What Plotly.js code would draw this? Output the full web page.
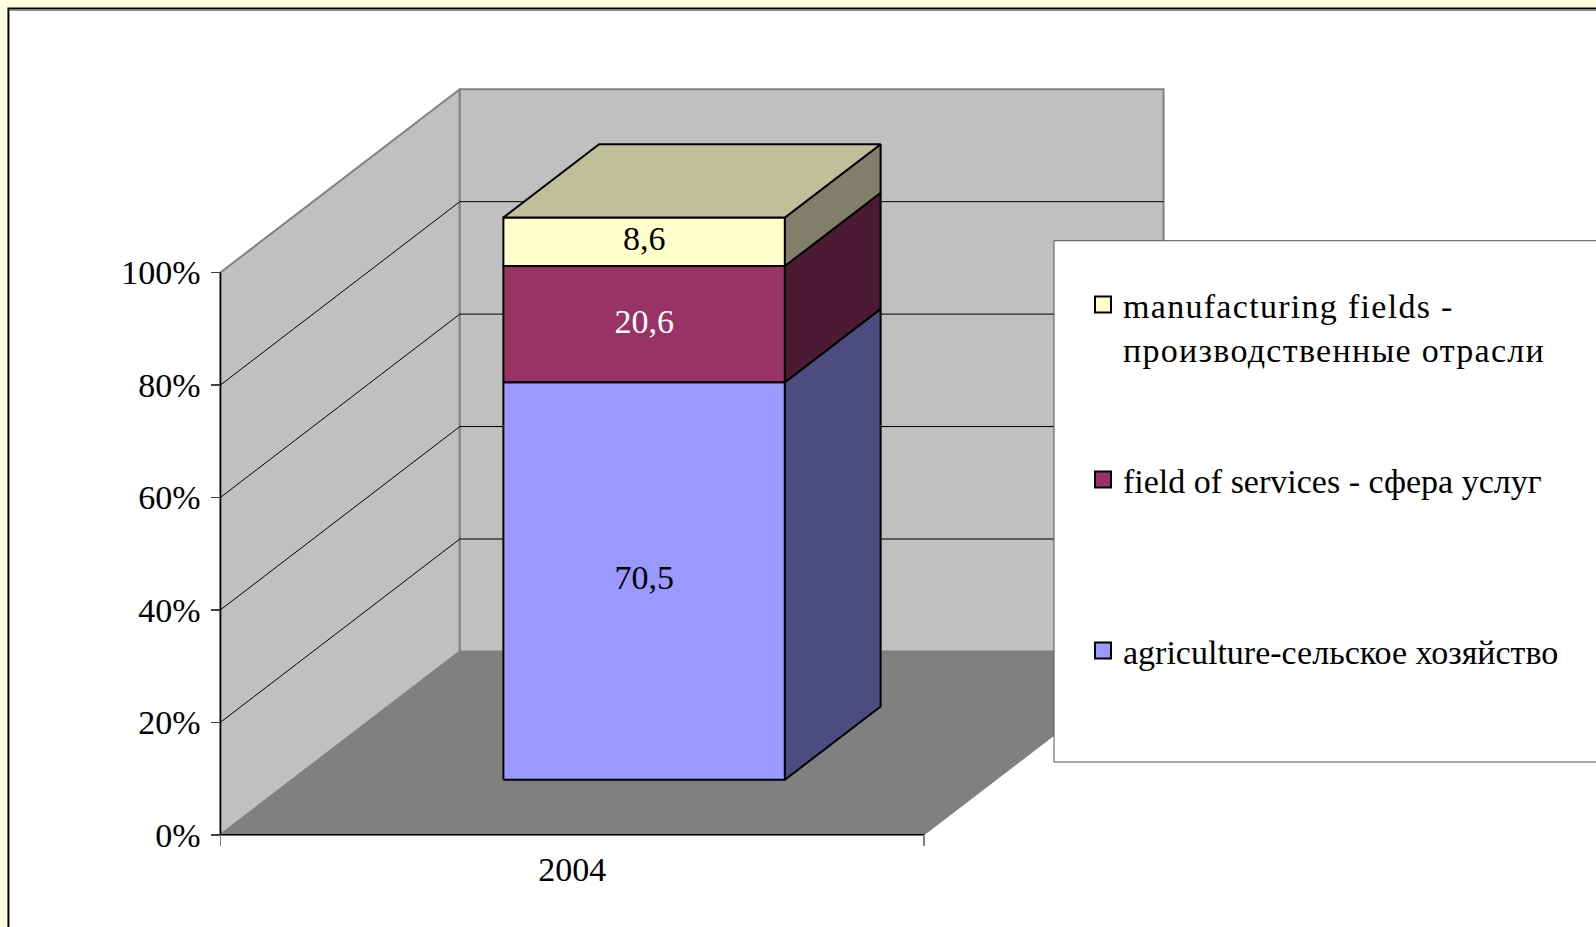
<!DOCTYPE html>
<html>
<head>
<meta charset="utf-8">
<script src="https://cdn.plot.ly/plotly-3.0.1.min.js"></script>
<style>
html,body{margin:0;padding:0;background:#FFFFE0;}
#chart{width:1596px;height:927px;}
#chart .legendtext{letter-spacing:1.3px;}
</style>
</head>
<body>
<div id="chart"></div>
<script>
// ---------------- data ----------------
const categories = ['2004'];
const seriesNames = [
  'agriculture-сельское хозяйство',
  'field of services - сфера услуг',
  'manufacturing fields -<br>производственные отрасли'
];
const agriculture = [70.5];
const services = [20.6];
const manufacturing = [8.6];
const valueLabels = ['70,5', '20,6', '8,6'];
const yTickVals = [0, 20, 40, 60, 80, 100];
const yTickText = ['0%', '20%', '40%', '60%', '80%', '100%'];

// ---------------- styles ----------------
const frontColors = ['#9999FF', '#993366', '#FFFFCC'];
const sideColors = ['#4C4C80', '#4D1A33', '#80806A'];
const topColor = '#BFBF99';
const labelColors = ['#000000', '#FFFFFF', '#000000'];
const FONT = 'Liberation Serif, Times New Roman, serif';
const FS = 34;

// ---------------- geometry (pixel targets) ----------------
const W = 1596, H = 927;
const X0PX = 220.9, X1PX = 924.3;      // front category band
const Y0PX = 834.7, Y100PX = 272.8;    // front 0% / 100%
const DEPTH_PX_X = 239.2, DEPTH_PX_Y = 183.2;
const pxPerX = (X1PX - X0PX);
const pxPerY = (Y0PX - Y100PX) / 100;
const DX = DEPTH_PX_X / pxPerX;
const DZ = DEPTH_PX_Y / pxPerY;
const xr = [-0.012, 1 + DX + 0.012];
const yr = [-2, 100 + DZ + 2];
const L = X0PX + xr[0] * pxPerX;
const PW = (xr[1] - xr[0]) * pxPerX;
const R = W - L - PW;
const B = H - Y0PX + yr[0] * pxPerY;
const PH = (yr[1] - yr[0]) * pxPerY;
const T = H - B - PH;
const px2paperX = px => (px - L) / PW;
const px2paperY = py => (H - B - py) / PH;

// projection of a point at category-x, value z and depth fraction f
const P = (x, z, f) => [x + f * DX, z + f * DZ];

const traces = [];
function poly(pts, fill, lineColor, lineWidth) {
  const xs = pts.map(p => p[0]); const ys = pts.map(p => p[1]);
  xs.push(xs[0]); ys.push(ys[0]);
  traces.push({type: 'scatter', mode: 'lines', x: xs, y: ys, fill: 'toself',
    fillcolor: fill, line: {color: lineColor, width: lineWidth},
    hoverinfo: 'skip', showlegend: false});
}
function line(pts, color, width) {
  traces.push({type: 'scatter', mode: 'lines', x: pts.map(p => p ? p[0] : null),
    y: pts.map(p => p ? p[1] : null), line: {color: color, width: width},
    hoverinfo: 'skip', showlegend: false, connectgaps: false});
}

const ymax = yTickVals[yTickVals.length - 1];
// walls & floor
poly([P(0, 0, 0), P(0, ymax, 0), P(0, ymax, 1), P(0, 0, 1)], '#C0C0C0', '#808080', 2);
poly([P(0, 0, 1), P(0, ymax, 1), P(1, ymax, 1), P(1, 0, 1)], '#C0C0C0', '#808080', 2);
poly([P(0, 0, 0), P(1, 0, 0), P(1, 0, 1), P(0, 0, 1)], '#808080', '#808080', 1);
// gridlines
const gl = [];
yTickVals.slice(1, -1).forEach(v => { gl.push(P(0, v, 0), P(0, v, 1), P(1, v, 1), null); });
line(gl, '#000000', 1);
// front floor edge and axis line
line([P(0, 0, 0), P(1, 0, 0)], '#000000', 1.5);
line([P(0, 0, 0), P(0, ymax, 0)], '#000000', 1.5);

// stacked bars (100% stacked)
const series = [agriculture, services, manufacturing];
const barX0 = 0.3, barX1 = 0.7, f0 = 0.3, f1 = 0.7;
categories.forEach((cat, ci) => {
  const total = series.reduce((s, arr) => s + arr[ci], 0);
  let base = 0;
  series.forEach((arr, si) => {
    const v = arr[ci] / total * 100;
    const b = base, t = base + v;
    poly([P(barX0, b, f0), P(barX1, b, f0), P(barX1, t, f0), P(barX0, t, f0)], frontColors[si], '#000000', 2);
    poly([P(barX1, b, f0), P(barX1, b, f1), P(barX1, t, f1), P(barX1, t, f0)], sideColors[si], '#000000', 2);
    if (si === series.length - 1) {
      poly([P(barX0, t, f0), P(barX1, t, f0), P(barX1, t, f1), P(barX0, t, f1)], topColor, '#000000', 2);
    }
    const c = P((barX0 + barX1) / 2, (b + t) / 2, f0);
    traces.push({type: 'scatter', mode: 'text', x: [c[0]], y: [c[1]], text: [valueLabels[si]],
      textposition: 'middle center', textfont: {family: FONT, size: FS, color: labelColors[si]},
      hoverinfo: 'skip', showlegend: false, cliponaxis: false});
    base = t;
  });
});

// legend entries
const legendIds = ['legend3', 'legend2', 'legend'];
series.forEach((arr, si) => {
  traces.push({type: 'scatter', mode: 'markers', x: [null], y: [null], name: seriesNames[si],
    legend: legendIds[si],
    marker: {symbol: 'square', size: 16, color: frontColors[si], line: {color: '#000000', width: 2}},
    hoverinfo: 'skip', showlegend: true});
});

const legendBase = {
  bgcolor: 'rgba(0,0,0,0)', borderwidth: 0, orientation: 'h',
  entrywidth: 520, entrywidthmode: 'pixels',
  font: {family: FONT, size: FS, color: '#000000'},
  xanchor: 'left', yanchor: 'middle', x: px2paperX(1083), valign: 'top'
};

const layout = {
  width: W, height: H,
  paper_bgcolor: '#FFFFE0', plot_bgcolor: 'rgba(0,0,0,0)',
  margin: {l: L, r: R, t: T, b: B, pad: 0, autoexpand: false},
  showlegend: true,
  legend: Object.assign({}, legendBase, {y: px2paperY(327)}),
  legend2: Object.assign({}, legendBase, {y: px2paperY(480)}),
  legend3: Object.assign({}, legendBase, {y: px2paperY(651)}),
  xaxis: {
    range: xr, showgrid: false, zeroline: false, showline: false,
    anchor: 'free', position: (0 - yr[0]) / (yr[1] - yr[0]),
    tickmode: 'array', tickvals: [0.5], ticktext: categories, ticks: '',
    ticklabelstandoff: 11,
    tickfont: {family: FONT, size: FS, color: '#000000'},
    minor: {tickmode: 'array', tickvals: [0, 1], ticks: 'outside', ticklen: 10, tickwidth: 1.5, tickcolor: '#808080', showgrid: false},
    fixedrange: true
  },
  yaxis: {
    range: yr, showgrid: false, zeroline: false, showline: false,
    anchor: 'free', position: (0 - xr[0]) / (xr[1] - xr[0]),
    tickmode: 'array', tickvals: yTickVals, ticktext: yTickText,
    ticks: 'outside', ticklen: 9, tickwidth: 1.5, tickcolor: '#404040',
    ticklabelstandoff: 4,
    tickfont: {family: FONT, size: FS, color: '#000000'},
    fixedrange: true
  },
  shapes: [
    {type: 'rect', layer: 'below', xref: 'paper', yref: 'paper',
     x0: px2paperX(9), x1: px2paperX(W + 50), y0: px2paperY(9), y1: px2paperY(H + 50),
     fillcolor: '#FFFFFF', line: {color: '#000000', width: 2}},
    {type: 'line', layer: 'below', xref: 'paper', yref: 'paper',
     x0: px2paperX(10), x1: px2paperX(W + 50), y0: px2paperY(10.8), y1: px2paperY(10.8),
     line: {color: '#808080', width: 1}},
    {type: 'rect', layer: 'above', xref: 'paper', yref: 'paper',
     x0: px2paperX(1054), x1: px2paperX(W + 50), y0: px2paperY(241), y1: px2paperY(762),
     fillcolor: '#FFFFFF', line: {color: '#505050', width: 1}}
  ]
};

Plotly.newPlot('chart', traces, layout, {staticPlot: true, displayModeBar: false});
</script>
</body>
</html>
